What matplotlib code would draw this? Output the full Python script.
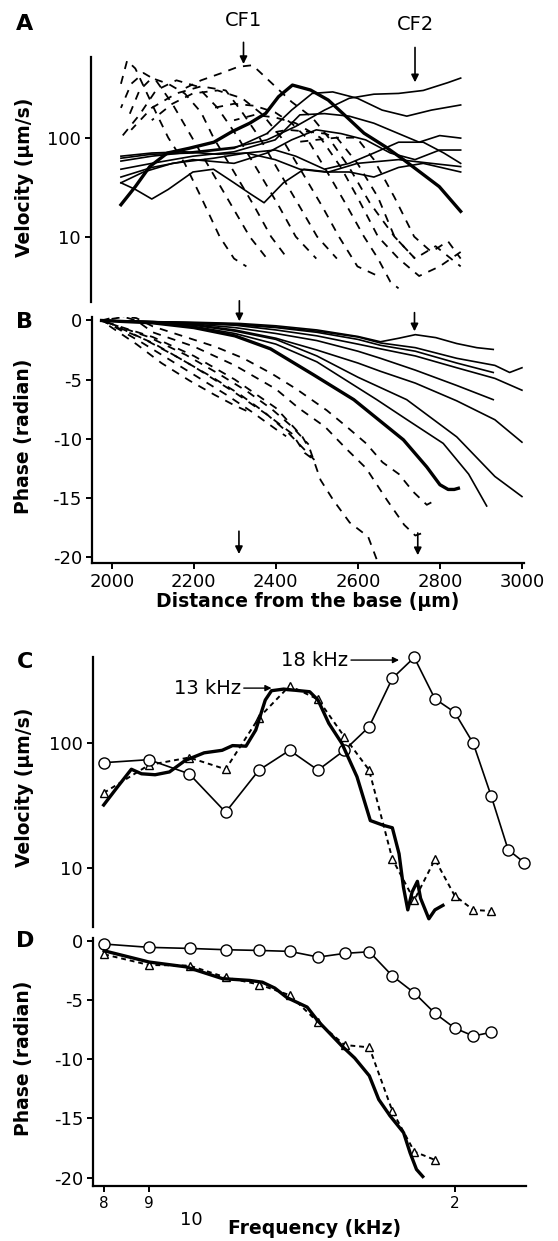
import matplotlib
matplotlib.use("Agg")
import matplotlib.pyplot as plt

plt.rcParams['font.family'] = ['DejaVu Sans']
plt.rcParams['axes.unicode_minus'] = False

# ---------------- panel A : velocity along the cochlea ----------------
# thin solid curves (distance um, velocity um/s)
a_solid_d = [
    [2025, 2100, 2200, 2300, 2380, 2450, 2520, 2580, 2640, 2700, 2760, 2820, 2851],
    [2025, 2100, 2200, 2300, 2380, 2440, 2490, 2540, 2600, 2660, 2720, 2780, 2851],
    [2025, 2100, 2200, 2300, 2400, 2460, 2520, 2580, 2640, 2700, 2750, 2800, 2851],
    [2025, 2100, 2200, 2300, 2380, 2440, 2500, 2560, 2620, 2680, 2740, 2800, 2851],
    [2025, 2080, 2150, 2250, 2330, 2400, 2450, 2520, 2580, 2640, 2700, 2760, 2810, 2851],
    [2025, 2100, 2180, 2260, 2330, 2400, 2460, 2520, 2580, 2640, 2700, 2760, 2851],
    [2025, 2060, 2100, 2140, 2200, 2250, 2300, 2340, 2373, 2420, 2470, 2530, 2600, 2700, 2780, 2851],
]
a_solid_v = [
    [58, 65, 72, 80, 95, 130, 190, 250, 275, 280, 300, 360, 400],
    [62, 68, 70, 78, 110, 190, 280, 290, 250, 190, 165, 190, 214],
    [48, 55, 65, 72, 95, 170, 175, 165, 140, 110, 90, 105, 99],
    [40, 50, 60, 55, 70, 95, 120, 110, 95, 70, 60, 75, 75],
    [35, 45, 55, 62, 70, 75, 65, 48, 55, 70, 90, 90, 70, 55],
    [65, 70, 72, 68, 70, 60, 48, 45, 45, 40, 50, 55, 45],
    [35, 30, 24, 30, 45, 48, 35, 27, 22, 35, 48, 45, 55, 60, 55, 51],
]
# thick solid curve
a_thick_d = [2025, 2060, 2095, 2138, 2190, 2251, 2295, 2338, 2377, 2408, 2442, 2486, 2529,
             2573, 2616, 2668, 2712, 2755, 2799, 2851]
a_thick_v = [21, 32, 51, 70, 78, 90, 115, 140, 176, 259, 340, 303, 240, 163, 111, 81, 60, 44, 32, 18]
# dashed curves
a_dash_d = [
    [2025, 2040, 2060, 2085, 2110, 2140, 2180, 2220, 2265, 2300, 2330],
    [2025, 2050, 2080, 2110, 2150, 2198, 2240, 2290, 2338, 2380],
    [2040, 2070, 2100, 2140, 2180, 2220, 2250, 2300, 2350, 2390, 2430],
    [2025, 2070, 2110, 2160, 2210, 2260, 2310, 2360, 2410, 2450, 2500],
    [2050, 2100, 2160, 2220, 2280, 2320, 2362, 2410, 2460, 2502, 2550],
    [2100, 2150, 2200, 2260, 2320, 2370, 2415, 2465, 2515, 2555, 2600, 2650],
    [2170, 2220, 2270, 2310, 2345, 2400, 2440, 2490, 2530, 2580, 2630, 2690, 2740],
    [2250, 2300, 2350, 2400, 2440, 2476, 2520, 2570, 2616, 2650, 2680, 2700],
    [2300, 2350, 2400, 2450, 2510, 2560, 2600, 2650, 2700, 2750, 2800, 2851],
    [2380, 2430, 2480, 2520, 2550, 2600, 2650, 2690, 2740, 2790, 2851],
    [2450, 2500, 2550, 2598, 2640, 2690, 2738, 2780, 2820, 2851],
]
a_dash_v = [
    [350, 600, 500, 300, 180, 100, 55, 25, 10, 6, 5],
    [200, 350, 450, 380, 220, 100, 50, 22, 10, 6],
    [150, 300, 400, 350, 280, 180, 100, 45, 20, 10, 6],
    [100, 170, 300, 380, 330, 200, 100, 45, 20, 10, 6],
    [120, 200, 280, 330, 300, 180, 100, 45, 20, 10, 6],
    [150, 220, 280, 300, 250, 170, 100, 45, 20, 10, 5, 4],
    [300, 380, 450, 520, 540, 330, 230, 160, 100, 50, 22, 10, 6],
    [200, 220, 210, 180, 140, 100, 50, 22, 10, 6, 3.5, 3],
    [150, 170, 160, 140, 100, 50, 25, 10, 6, 4, 5, 7],
    [110, 120, 115, 110, 100, 55, 25, 10, 6, 8, 5],
    [90, 95, 100, 100, 60, 25, 10, 7, 9, 6],
]

# ---------------- panel B : phase along the cochlea ----------------
b_solid_d = [
    [1975, 2100, 2200, 2311, 2400, 2500, 2600, 2655, 2700, 2740, 2790, 2841, 2890, 2930],
    [1975, 2100, 2200, 2300, 2400, 2500, 2600, 2655, 2740, 2841, 2934, 2970, 3000],
    [1975, 2100, 2200, 2300, 2400, 2500, 2600, 2655, 2740, 2841, 2930],
    [1975, 2100, 2200, 2300, 2400, 2500, 2600, 2655, 2740, 2841, 2934, 3000],
    [1975, 2100, 2200, 2300, 2400, 2500, 2600, 2655, 2740, 2841, 2930],
    [1975, 2100, 2200, 2300, 2400, 2500, 2600, 2655, 2740, 2841, 2934, 3000],
    [1975, 2100, 2200, 2300, 2400, 2500, 2600, 2719, 2841, 2934, 3000],
    [1975, 2100, 2200, 2300, 2400, 2500, 2646, 2720, 2808, 2870, 2914],
]
b_solid_p = [
    [0, -0.1, -0.15, -0.25, -0.45, -0.8, -1.35, -1.8, -1.5, -1.2, -1.45, -1.95, -2.3, -2.45],
    [0, -0.1, -0.2, -0.3, -0.55, -0.9, -1.4, -1.9, -2.3, -3.2, -3.8, -4.4, -4.0],
    [0, -0.1, -0.2, -0.35, -0.6, -1.0, -1.6, -2.1, -2.6, -3.6, -4.4],
    [0, -0.1, -0.25, -0.4, -0.8, -1.3, -2.0, -2.4, -3.0, -4.0, -4.9, -5.9],
    [0, -0.15, -0.3, -0.6, -1.1, -1.7, -2.6, -3.2, -4.2, -5.5, -6.7],
    [0, -0.15, -0.35, -0.8, -1.5, -2.5, -3.6, -4.3, -5.3, -6.8, -8.4, -10.3],
    [0, -0.15, -0.4, -0.9, -1.6, -3.0, -4.8, -6.7, -9.85, -13.2, -14.9],
    [0, -0.2, -0.5, -1.1, -2.0, -3.5, -6.7, -8.4, -10.4, -13.0, -15.7],
]
b_thick_d = [1975, 2100, 2200, 2300, 2387, 2492, 2590, 2711, 2768, 2800, 2820, 2835, 2845]
b_thick_p = [0, -0.2, -0.6, -1.3, -2.4, -4.6, -6.7, -10.1, -12.4, -13.9, -14.3, -14.3, -14.2]
b_dash_d = [
    [1975, 2020, 2060, 2100, 2180, 2251, 2321, 2390, 2450, 2524, 2573, 2620, 2660, 2700, 2735, 2768, 2790],
    [1975, 2030, 2060, 2100, 2200, 2300, 2400, 2455, 2520, 2570, 2620, 2671, 2713, 2740, 2765],
    [1975, 2000, 2100, 2200, 2300, 2400, 2464, 2484, 2509, 2540, 2580, 2625, 2650],
    [1975, 2000, 2100, 2200, 2300, 2380, 2440, 2470, 2497],
    [1975, 2000, 2090, 2180, 2260, 2330, 2390, 2440, 2480],
    [1975, 2000, 2080, 2160, 2240, 2310, 2370, 2430, 2494],
    [1975, 2000, 2070, 2140, 2210, 2280, 2340, 2400, 2425],
    [1975, 2000, 2060, 2121, 2190, 2251, 2300, 2338],
]
b_dash_p = [
    [0, 0.4, 0.2, -0.5, -1.4, -2.2, -3.2, -4.5, -5.8, -7.6, -9.0, -10.4, -12.0, -13.0, -14.5, -15.6, -15.2],
    [0, 0.3, 0.0, -1.0, -2.2, -3.8, -5.8, -7.4, -9.0, -10.8, -12.5, -15.2, -17.3, -18.2, -17.9],
    [0, -0.3, -1.4, -3.0, -5.0, -7.4, -9.8, -11.0, -13.5, -15.2, -17.1, -18.3, -20.6],
    [0, -0.4, -1.9, -3.9, -6.1, -8.0, -9.6, -11.2, -11.9],
    [0, -0.3, -1.4, -2.9, -4.5, -6.0, -7.5, -9.0, -10.5],
    [0, -0.3, -1.6, -3.1, -4.7, -6.2, -7.7, -9.5, -11.8],
    [0, -0.4, -1.8, -3.3, -4.8, -6.3, -7.7, -9.2, -9.8],
    [0, -0.6, -2.0, -3.6, -5.1, -6.3, -7.2, -7.8],
]

# ---------------- panels C and D : frequency responses ----------------
circ_f = list(range(8, 25))
circ_vel = [70, 74, 57, 28, 61, 88, 61, 88, 136, 333, 490, 228, 178, 100, 38, 14, 11]
tri_f = list(range(8, 23))
tri_vel = [40, 67, 77, 62, 161, 290, 226, 113, 61, 11.8, 5.5, 11.7, 6.0, 4.6, 4.5]
thick_f = [8.0, 8.3, 8.6, 8.83, 9.15, 9.5, 9.9, 10.4, 10.9, 11.2, 11.6, 11.9, 12.2, 12.4, 12.8,
           13.7, 14.0, 14.4, 14.9, 15.5, 16.05, 16.6, 17.0, 17.3, 17.5, 17.7, 17.9, 18.15,
           18.3, 18.7, 19.0, 19.4]
thick_vel = [32, 45, 62, 57, 56, 59, 73, 84, 88, 96, 95, 128, 223, 265, 273, 260, 223, 145,
             100, 54, 24, 22, 21, 13, 7.0, 4.6, 6.4, 7.8, 5.7, 3.9, 4.6, 5.0]

circ_f_ph = list(range(8, 23))
circ_ph = [-0.28, -0.56, -0.65, -0.76, -0.82, -0.9, -1.38, -1.07, -0.93, -2.98, -4.41, -6.13,
           -7.37, -8.04, -7.73]
tri_f_ph = list(range(8, 20))
tri_ph = [-1.15, -2.05, -2.1, -3.1, -3.7, -4.6, -6.9, -8.8, -9.0, -14.4, -17.8, -18.5]
thick_f_ph = [8.0, 9.0, 9.9, 10.9, 11.7, 12.1, 12.5, 12.9, 13.6, 14.0, 14.9, 15.4, 16.0, 16.4,
              16.9, 17.5, 17.8, 18.1, 18.4]
thick_ph = [-0.85, -1.8, -2.2, -3.2, -3.35, -3.5, -4.0, -4.8, -5.6, -6.8, -8.9, -9.9, -11.4,
            -13.4, -14.8, -16.2, -17.9, -19.3, -19.9]

W, H = 558, 1241


def box(l, t, r, b):
    return [l / W, 1 - b / H, (r - l) / W, (b - t) / H]


def ftext(x, y, s, **kw):
    fig.text(x / W, 1 - y / H, s, ha='center', va='center', **kw)


def style(ax, bottom):
    for s in ['top', 'right']:
        ax.spines[s].set_visible(False)
    ax.spines['bottom'].set_visible(bottom)
    ax.spines['left'].set_linewidth(1.6)
    ax.spines['bottom'].set_linewidth(1.6)
    ax.tick_params(axis='y', direction='out', length=4, width=1.4, labelsize=13, pad=3)
    ax.tick_params(axis='x', direction='out', length=4, width=1.4, labelsize=13, pad=3)
    if not bottom:
        ax.tick_params(axis='x', bottom=False, labelbottom=False)
    ax.minorticks_off()


fig = plt.figure(figsize=(W / 100, H / 100), dpi=100)
xlim_d = (1951, 3005)

# ---- A ----
axA = fig.add_axes(box(90.5, 56.7, 524, 301.7))
axA.set_yscale('log')
for i, (d, v) in enumerate(zip(a_dash_d, a_dash_v)):
    axA.plot(d, v, color='k', lw=1.3, ls=(i * 2.3, (4.5, 4.0)))
for d, v in zip(a_solid_d, a_solid_v):
    axA.plot(d, v, color='k', lw=1.2)
axA.plot(a_thick_d, a_thick_v, color='k', lw=2.4)
axA.set_xlim(*xlim_d)
axA.set_ylim(2.2, 658)
style(axA, False)
axA.set_yticks([10, 100])
axA.set_yticklabels(['10', '100'])
axA.minorticks_off()
arrow = dict(arrowstyle='-|>', color='k', lw=1.2, mutation_scale=11)
axA.annotate('', xy=(2323, 520), xytext=(2323, 980), arrowprops=arrow, annotation_clip=False)
axA.annotate('', xy=(2740, 340), xytext=(2740, 870), arrowprops=arrow, annotation_clip=False)
ftext(244, 20, 'CF1', fontsize=14)
ftext(415, 24, 'CF2', fontsize=14)
ftext(24, 177, 'Velocity (µm/s)', rotation=90, fontsize=13.5, fontweight='bold')
ftext(25, 24, 'A', fontsize=16, fontweight='bold')

# ---- B ----
axB = fig.add_axes(box(91.7, 317.3, 524, 563.3))
for i, (d, p) in enumerate(zip(b_dash_d, b_dash_p)):
    axB.plot(d, p, color='k', lw=1.3, ls=(i * 2.9, (4.5, 4.0)))
for d, p in zip(b_solid_d, b_solid_p):
    axB.plot(d, p, color='k', lw=1.2)
axB.plot(b_thick_d, b_thick_p, color='k', lw=2.4)
axB.set_xlim(*xlim_d)
axB.set_ylim(-20.55, 0.27)
style(axB, True)
axB.set_yticks([0, -5, -10, -15, -20])
axB.set_xticks([2000, 2200, 2400, 2600, 2800, 3000])
for d, y0, y1 in [(2311, 1.9, -0.3), (2738, 0.9, -1.15), (2310, -17.6, -20.0), (2746, -17.75, -20.1)]:
    axB.annotate('', xy=(d, y1), xytext=(d, y0), arrowprops=arrow, annotation_clip=False)
axB.set_xlabel('Distance from the base (µm)', fontsize=13.5, fontweight='bold', labelpad=1)
ftext(24, 436, 'Phase (radian)', rotation=90, fontsize=13.5, fontweight='bold')
ftext(25, 322, 'B', fontsize=16, fontweight='bold')

# ---- C ----
xlim_f = (7.77, 24.1)
axC = fig.add_axes(box(92.5, 656.7, 526, 926.7))
axC.set_xscale('log')
axC.set_yscale('log')
axC.plot(tri_f, tri_vel, color='k', lw=1.4, ls=(0, (2.5, 2.0)), marker='^', ms=6,
         mfc='white', mec='k', mew=1.0, clip_on=False)
axC.plot(circ_f, circ_vel, color='k', lw=1.2, marker='o', ms=8, mfc='white', mec='k',
         mew=1.0, clip_on=False)
axC.plot(thick_f, thick_vel, color='k', lw=2.4, clip_on=False)
axC.set_xlim(*xlim_f)
axC.set_ylim(3.37, 497)
style(axC, False)
axC.set_yticks([10, 100])
axC.set_yticklabels(['10', '100'])
axC.minorticks_off()
small_arrow = dict(arrowstyle='-|>', color='k', lw=1.0, mutation_scale=9, shrinkA=0, shrinkB=0)
axC.annotate('13 kHz', xy=(12.4, 278), xytext=(11.45, 278), arrowprops=small_arrow,
             fontsize=14, ha='right', va='center', annotation_clip=False)
axC.annotate('18 kHz', xy=(17.3, 467), xytext=(15.15, 467), arrowprops=small_arrow,
             fontsize=14, ha='right', va='center', annotation_clip=False)
ftext(24, 787, 'Velocity (µm/s)', rotation=90, fontsize=13.5, fontweight='bold')
ftext(25, 662, 'C', fontsize=16, fontweight='bold')

# ---- D ----
axD = fig.add_axes(box(93, 938, 526, 1186))
axD.set_xscale('log')
axD.plot(tri_f_ph, tri_ph, color='k', lw=1.4, ls=(0, (2.5, 2.0)), marker='^', ms=6,
         mfc='white', mec='k', mew=1.0, clip_on=False)
axD.plot(circ_f_ph, circ_ph, color='k', lw=1.2, marker='o', ms=8, mfc='white', mec='k',
         mew=1.0, clip_on=False)
axD.plot(thick_f_ph, thick_ph, color='k', lw=2.4)
axD.set_xlim(*xlim_f)
axD.set_ylim(-20.7, 0.23)
style(axD, True)
axD.set_yticks([0, -5, -10, -15, -20])
axD.set_xticks([8, 9, 20])
axD.set_xticklabels(['8', '9', '2'], fontsize=11)
axD.minorticks_off()
ftext(191, 1220, '10', fontsize=13)
ftext(315, 1228, 'Frequency (kHz)', fontsize=13.5, fontweight='bold')
ftext(24, 1058, 'Phase (radian)', rotation=90, fontsize=13.5, fontweight='bold')
ftext(25, 941, 'D', fontsize=16, fontweight='bold')

fig.savefig('out.png', dpi=100)
